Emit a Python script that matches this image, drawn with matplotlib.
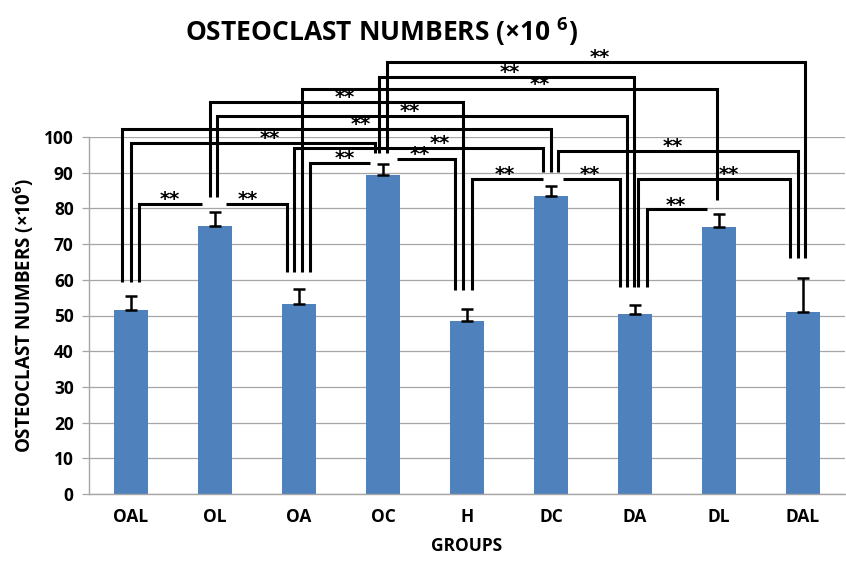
import matplotlib
matplotlib.use("Agg")
import matplotlib.pyplot as plt

plt.rcParams["font.family"] = ["Open Sans", "DejaVu Sans"]
plt.rcParams["font.weight"] = "bold"
plt.rcParams["mathtext.fontset"] = "custom"
plt.rcParams["mathtext.rm"] = "Open Sans:bold"
plt.rcParams["mathtext.it"] = "Open Sans:bold"
plt.rcParams["mathtext.bf"] = "Open Sans:bold"

# ---- data -------------------------------------------------------------
groups = ["OAL", "OL", "OA", "OC", "H", "DC", "DA", "DL", "DAL"]
means = [51.5, 75.2, 53.2, 89.4, 48.5, 83.6, 50.3, 74.7, 51.1]
err_upper = [4.0, 3.9, 4.2, 3.0, 3.3, 2.8, 2.6, 3.6, 9.5]
y_ticks = [0, 10, 20, 30, 40, 50, 60, 70, 80, 90, 100]

# significant pairwise differences (all p < 0.01, marked "**")
comparisons = [
    ("OC", "DAL"), ("OC", "DA"), ("OA", "DL"), ("OL", "H"), ("OL", "DA"),
    ("OAL", "DC"), ("OAL", "OC"), ("OA", "DC"), ("DC", "DAL"), ("OA", "OC"),
    ("OC", "H"), ("H", "DC"), ("DC", "DA"), ("DA", "DAL"), ("OAL", "OL"),
    ("OL", "OA"), ("DA", "DL"),
]

# ---- bracket layout ---------------------------------------------------
# (bar height, left x-offset, left leg?, right x-offset, right leg?, star x)
bracket_layout = [
    (121.0, 0.048, True, 0.024, True, 5.58),
    (116.9, -0.048, True, -0.012, True, 4.51),
    (113.5, 0.036, True, -0.024, True, 4.87),
    (109.9, -0.060, True, -0.048, True, 2.55),
    (105.9, 0.024, True, -0.095, True, 3.32),
    (102.2, -0.107, True, 0.000, True, 2.73),
    (98.4, 0.000, True, -0.095, True, 1.65),
    (96.8, -0.060, True, -0.095, True, 3.68),
    (96.0, 0.083, True, -0.060, True, 6.45),
    (92.8, 0.130, True, -0.155, False, 2.55),
    (93.8, 0.167, False, -0.143, True, 3.44),
    (88.2, 0.060, True, -0.095, False, 4.45),
    (88.2, 0.143, False, -0.180, True, 5.46),
    (88.2, 0.036, True, -0.155, True, 7.12),
    (81.2, 0.095, True, -0.155, False, 0.46),
    (81.2, 0.130, False, -0.143, True, 1.39),
    (79.7, 0.143, True, -0.143, False, 6.48),
]
# lower end of the vertical legs above each group
leg_bottom = {"OAL": 59.4, "OL": 83.2, "OA": 62.2, "OC": 95.5, "H": 57.1,
              "DC": 90.2, "DA": 58.0, "DL": 82.4, "DAL": 66.1}

# ---- figure -----------------------------------------------------------
W, H = 846, 562
fig = plt.figure(figsize=(W / 100, H / 100), dpi=100)
ax = fig.add_axes([89 / W, 1 - 494 / H, (845 - 89) / W, (494 - 137) / H])

x = list(range(len(groups)))
ax.bar(x, means, width=0.41, color="#4F81BD", zorder=2)
ax.errorbar(x, means, yerr=[[0] * len(means), err_upper], fmt="none",
            ecolor="black", elinewidth=1.8, capsize=4.5, capthick=1.8, zorder=3)

ax.set_xlim(-0.5, 8.5)
ax.set_ylim(0, 100)
ax.set_yticks(y_ticks)
ax.set_xticks(x)
ax.set_xticklabels(groups)
ax.yaxis.grid(True, color="#A6A6A6", linewidth=0.9, zorder=0)
ax.set_axisbelow(True)
for s in ("top", "right"):
    ax.spines[s].set_visible(False)
for s in ("left", "bottom"):
    ax.spines[s].set_color("#A6A6A6")
    ax.spines[s].set_linewidth(1.0)
ax.tick_params(axis="y", length=5, width=0.9, color="#A6A6A6", pad=6,
               labelsize=12.5)
ax.tick_params(axis="x", length=0, pad=10, labelsize=12.5)
for lab in ax.get_xticklabels() + ax.get_yticklabels():
    lab.set_fontweight("bold")

idx = {g: i for i, g in enumerate(groups)}
for (ga, gb), (yb, lo, lleg, ro, rleg, sx) in zip(comparisons, bracket_layout):
    xl = idx[ga] + lo
    xr = idx[gb] + ro
    yl = leg_bottom[ga] if lleg else yb
    yr = leg_bottom[gb] if rleg else yb
    ax.plot([xl, xl, xr, xr], [yl, yb, yb, yr], color="black", lw=2.2,
            solid_joinstyle="miter", solid_capstyle="butt",
            clip_on=False, zorder=4)
    ax.text(sx, yb - 0.3, "**", ha="center", va="baseline", fontsize=14,
            fontweight="bold", family="DejaVu Sans", clip_on=False, zorder=5)

ax.set_xlabel("GROUPS", fontsize=12.5, fontweight="bold", labelpad=8)
ax.set_ylabel("OSTEOCLAST NUMBERS (×10$^{6}$)", fontsize=13.5,
              fontweight="bold", labelpad=6)

fig.text(382 / W, 1 - 32 / H, "OSTEOCLAST NUMBERS (×10 $^{6}$)",
         ha="center", va="center", fontsize=19, fontweight="bold")

fig.savefig("out.png", dpi=100)
